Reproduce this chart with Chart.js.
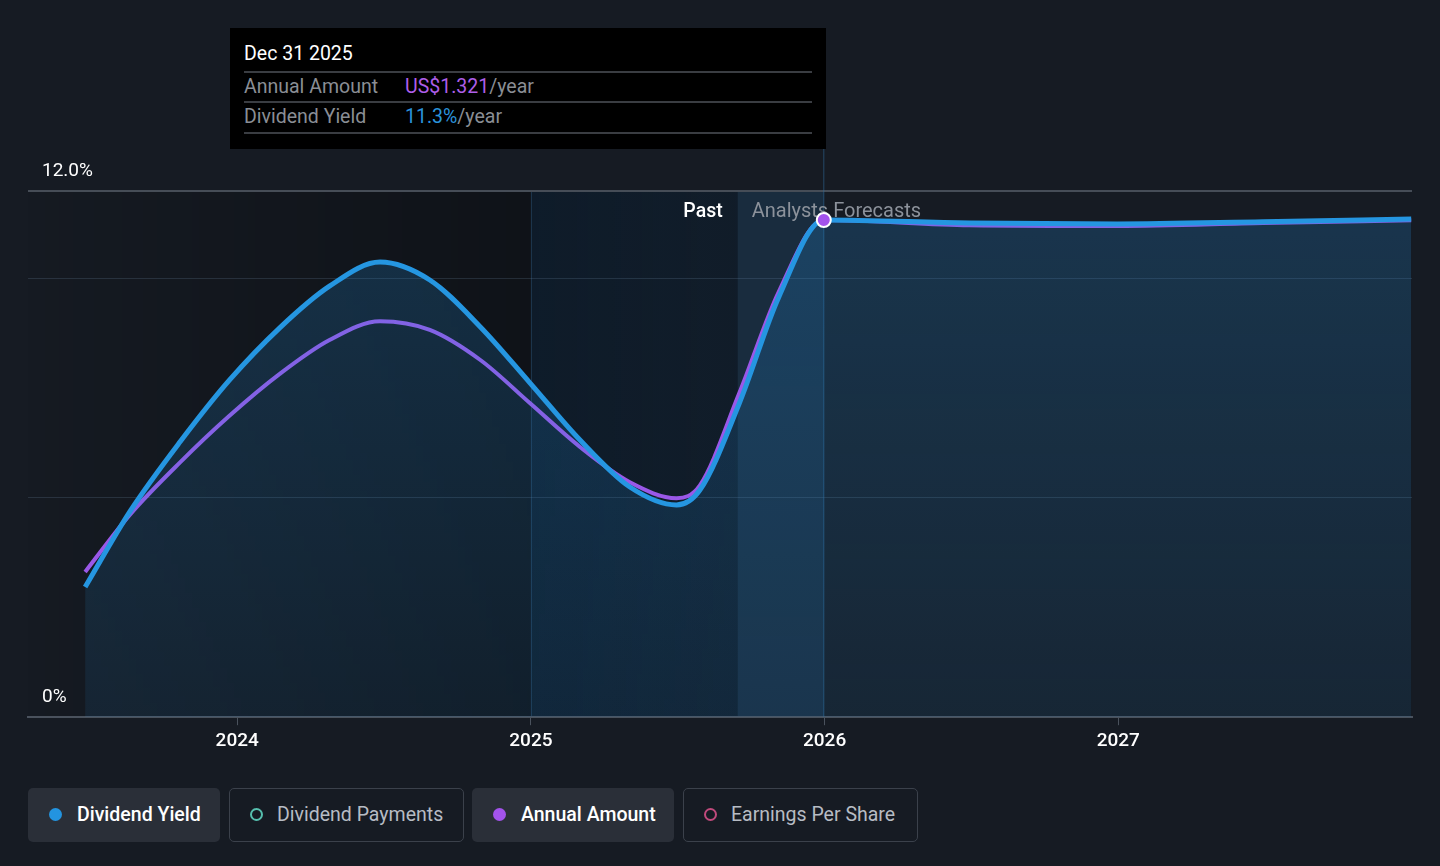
<!DOCTYPE html>
<html>
<head>
<meta charset="utf-8">
<script src="https://cdn.jsdelivr.net/npm/chart.js@4.4.1/dist/chart.umd.min.js"></script>
<style>
  html, body { margin: 0; padding: 0; background: #161b23; }
  body { width: 1440px; height: 866px; position: relative; overflow: hidden; font-family: Roboto, "Noto Sans", sans-serif; }
  #wrap { position: absolute; left: 0; top: 0; width: 1440px; height: 758px; }
  .tip { position: absolute; left: 230px; top: 28px; width: 596px; height: 121px; background: #000; z-index: 2; }
  .tip .head { position: absolute; left: 14px; top: 14px; color: #fff; font-size: 19.5px; }
  .tip .row { position: absolute; left: 14px; width: 568px; height: 30px; border-top: 2px solid #3a3d42; font-size: 19.5px; line-height: 28px; color: #8a8e95; }
  .tip .row .v { position: absolute; left: 161px; top: 0; }
  .tip .bottom { position: absolute; left: 14px; top: 104px; width: 568px; border-top: 2px solid #3a3d42; }
  .legend { position: absolute; top: 788px; height: 54px; box-sizing: border-box; border-radius: 5px; font-size: 19.5px; line-height: 54px; }
  .legend.on { background: #2a2f38; color: #fff; font-weight: 500; }
  .legend.off { border: 1.5px solid #3b414b; color: #b7bcc4; line-height: 51px; }
  .legend .dot { position: absolute; top: 50%; width: 13px; height: 13px; margin-top: -7px; border-radius: 50%; box-sizing: border-box; }
</style>
</head>
<body>
<div id="wrap"><canvas id="chart"></canvas></div>

<div class="tip">
  <div class="head">Dec 31 2025</div>
  <div class="row" style="top:43px">Annual Amount<span class="v"><span style="color:#ae5ee9">US$1.321</span>/year</span></div>
  <div class="row" style="top:73px">Dividend Yield<span class="v"><span style="color:#2a93dc">11.3%</span>/year</span></div>
  <div class="bottom"></div>
</div>

<div class="legend on" style="left:28px;width:192px"><span class="dot" style="left:21px;background:#2394e0"></span><span style="position:absolute;left:49px">Dividend Yield</span></div>
<div class="legend off" style="left:229px;width:235px"><span class="dot" style="left:20px;border:2px solid #56bfae"></span><span style="position:absolute;left:47px">Dividend Payments</span></div>
<div class="legend on" style="left:472px;width:202px"><span class="dot" style="left:21px;background:#a353ec"></span><span style="position:absolute;left:49px">Annual Amount</span></div>
<div class="legend off" style="left:683px;width:235px"><span class="dot" style="left:20px;border:2px solid #c04a7c"></span><span style="position:absolute;left:47px">Earnings Per Share</span></div>

<script>
// dates of the points
const dates = [
  "2023-06-26", "2023-08-21", "2023-10-22", "2023-12-22", "2024-02-23",
  "2024-04-25", "2024-06-27", "2024-08-28", "2024-10-30", "2024-12-31",
  "2025-03-03", "2025-05-04", "2025-07-01", "2025-07-30", "2025-09-17",
  "2025-11-05", "2025-12-31", "2026-06-30", "2026-12-31", "2027-06-30",
  "2027-12-31"
];
// dividend yield, %
const dividendYield = [
  2.97, 4.70, 6.28, 7.68, 8.88, 9.83, 10.38, 9.97, 8.90, 7.62,
  6.32, 5.25, 4.84, 5.18, 7.16, 9.58, 11.34, 11.27, 11.25, 11.30,
  11.36
];
// annual amount, US$/year
const annualAmount = [
  0.386, 0.539, 0.677, 0.800, 0.912, 1.002, 1.052, 1.029, 0.949, 0.834,
  0.718, 0.624, 0.582, 0.616, 0.861, 1.130, 1.321, 1.307, 1.305, 1.313,
  1.320
];
const yieldTicks = [0, 5, 10, 12];
const yieldLabels = { 0: "0%", 12: "12.0%" };
const yearTicks = [2024, 2025, 2026, 2027];
const axisStart = "2023-04-16";
const axisEnd = "2027-12-31";
const pastStart = "2025-01-01";
const forecastStart = "2025-09-15";
const tipIndex = 16;
const amountMax = 1.398;

function toYear(d) {
  const t = new Date(d + "T00:00:00Z");
  const y = t.getUTCFullYear();
  const s = Date.UTC(y, 0, 1), e = Date.UTC(y + 1, 0, 1);
  return y + (t - s) / (e - s);
}
const xs = dates.map(toYear);

const bands = {
  id: "bands",
  beforeDraw(chart) {
    const { ctx, chartArea: a, scales: { x } } = chart;
    const x25 = x.getPixelForValue(toYear(pastStart));
    const xf = x.getPixelForValue(toYear(forecastStart));
    const xt = x.getPixelForValue(xs[tipIndex]);
    const h = a.bottom - a.top;
    ctx.save();
    let g = ctx.createLinearGradient(a.left, 0, x25, 0);
    g.addColorStop(0, "rgba(0,0,0,0.02)");
    g.addColorStop(1, "rgba(0,0,0,0.3)");
    ctx.fillStyle = g;
    ctx.fillRect(a.left, a.top, x25 - a.left, h);
    g = ctx.createLinearGradient(x25, 0, xf, 0);
    g.addColorStop(0, "rgba(12,28,44,0.75)");
    g.addColorStop(1, "rgba(14,30,46,0.6)");
    ctx.fillStyle = g;
    ctx.fillRect(x25, a.top, xf - x25, h);
    ctx.fillStyle = "rgba(35,105,160,0.22)";
    ctx.fillRect(xf, a.top, xt - xf, h);
    ctx.fillStyle = "rgba(60,110,150,0.35)";
    ctx.fillRect(x25, a.top, 1, h);
    ctx.restore();
  },
  beforeDatasetsDraw(chart) {
    const { ctx, chartArea: a, scales: { x } } = chart;
    const xf = x.getPixelForValue(toYear(forecastStart));
    const xt = x.getPixelForValue(xs[tipIndex]);
    ctx.save();
    ctx.fillStyle = "rgba(50,110,160,0.55)";
    ctx.fillRect(xt - 0.5, 149, 1, a.bottom - 149);
    ctx.font = "500 19.5px Roboto";
    ctx.textBaseline = "middle";
    ctx.textAlign = "right";
    ctx.fillStyle = "#ffffff";
    ctx.fillText("Past", xf - 15, a.top + 21);
    ctx.textAlign = "left";
    ctx.font = "20px Roboto";
    ctx.fillStyle = "#8c929b";
    ctx.fillText("Analysts Forecasts", xf + 14, a.top + 21);
    ctx.restore();
  }
};

const ctx = document.getElementById("chart").getContext("2d");
const fillGrad = ctx.createLinearGradient(0, 191, 0, 717);
fillGrad.addColorStop(0, "rgba(35,140,215,0.24)");
fillGrad.addColorStop(1, "rgba(35,140,215,0.1)");

new Chart(ctx, {
  type: "line",
  data: {
    datasets: [
      {
        label: "Annual Amount marker",
        data: [{ x: xs[tipIndex], y: annualAmount[tipIndex] }],
        yAxisID: "y2",
        showLine: false,
        pointRadius: 7,
        pointBackgroundColor: "#a353ec",
        pointBorderColor: "#ffffff",
        pointBorderWidth: 2,
        order: 0
      },
      {
        label: "Dividend Yield",
        data: xs.map((x, i) => ({ x, y: dividendYield[i] })),
        yAxisID: "y",
        borderColor: "#2596e1",
        borderWidth: 5,
        pointRadius: 0,
        cubicInterpolationMode: "monotone",
        fill: "origin",
        backgroundColor: fillGrad,
        order: 1
      },
      {
        label: "Annual Amount",
        data: xs.map((x, i) => ({ x, y: annualAmount[i] })),
        yAxisID: "y2",
        borderColor: "#9a58e8",
        borderWidth: 4,
        pointRadius: 0,
        cubicInterpolationMode: "monotone",
        fill: false,
        order: 2
      }
    ]
  },
  options: {
    responsive: true,
    maintainAspectRatio: false,
    animation: false,
    layout: { padding: { left: 0, right: 28, top: 191, bottom: 0 } },
    plugins: { legend: { display: false }, tooltip: { enabled: false } },
    scales: {
      x: {
        type: "linear",
        min: toYear(axisStart),
        max: toYear(axisEnd) + 1 / 365,
        afterBuildTicks: s => { s.ticks = yearTicks.map(v => ({ value: v })); },
        ticks: { color: "#ffffff", font: { family: "Roboto", size: 19, weight: "500" }, padding: 5, callback: v => String(v) },
        grid: { drawOnChartArea: false, drawTicks: true, tickLength: 8, color: "#4a525d" },
        border: { display: true, color: "#4a525d", width: 2 }
      },
      y: {
        min: 0,
        max: 12,
        afterBuildTicks: s => { s.ticks = yieldTicks.map(v => ({ value: v })); },
        ticks: {
          mirror: true, padding: 14, labelOffset: -20,
          color: "#ffffff", font: { family: "Roboto", size: 19 },
          callback: v => yieldLabels[v] || ""
        },
        grid: {
          drawTicks: false,
          color: c => (c.tick.value === 12 ? "#464d57" : "rgba(120,150,180,0.2)"),
          lineWidth: c => (c.tick.value === 12 ? 2 : 1)
        },
        border: { display: false }
      },
      y2: { min: 0, max: amountMax, display: false }
    }
  },
  plugins: [bands]
});
</script>
</body>
</html>
